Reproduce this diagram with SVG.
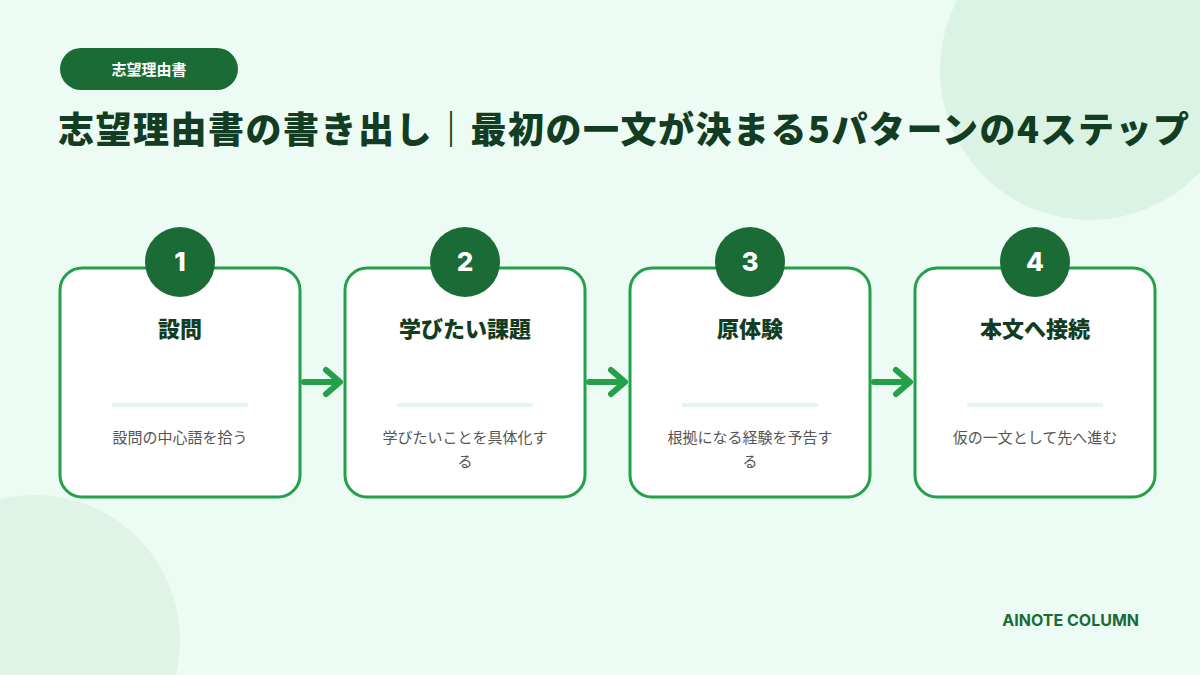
<svg xmlns="http://www.w3.org/2000/svg" width="1200" height="675" viewBox="0 0 1200 675">
<defs>
<style>
.box{fill:#fff;stroke:#22a04a;stroke-width:3}
.num{fill:#1a6b36}
.nt{font-family:Inter,"Noto Sans CJK JP",sans-serif;font-weight:800;font-size:26px;fill:#fff;text-anchor:middle}
.tt{font-family:"Noto Sans CJK JP",sans-serif;font-weight:900;font-size:22px;fill:#123d22;text-anchor:middle}
.dv{stroke:#e3f7ec;stroke-width:4}
.ds{font-family:"Noto Sans CJK JP",sans-serif;font-size:15px;fill:#555;text-anchor:middle}
.ar{stroke:#22a04a;stroke-width:6;fill:none;stroke-linecap:round;stroke-linejoin:round}
</style>
</defs>
<rect width="1200" height="675" fill="#ecfbf3"/>
<circle cx="1090" cy="70" r="150" fill="#daf3e4"/>
<circle cx="35" cy="640" r="145" fill="#dff3e7"/>
<rect x="60" y="48" width="178" height="42" rx="21" fill="#1a6b36"/>
<text x="149" y="75" font-family="'Noto Sans CJK JP',sans-serif" font-weight="700" font-size="15" fill="#fff" text-anchor="middle">志望理由書</text>
<text x="58" y="143" font-family="'Noto Sans CJK JP',sans-serif" font-weight="900" font-size="36" letter-spacing="1.5" fill="#123d22">志望理由書の書き出し｜最初の一文が決まる5パターンの4ステップ</text>
<g id="connectors">
<path class="ar" d="M304 382H338M326 370L340 382L326 394"/>
<path class="ar" d="M589 382H623M611 370L625 382L611 394"/>
<path class="ar" d="M874 382H908M896 370L910 382L896 394"/>
</g>
<g id="step1"><rect class="box" x="60" y="268" width="240" height="229" rx="22"/><circle class="num" cx="180" cy="262" r="35"/><text class="nt" x="180" y="271">1</text><text class="tt" x="180" y="337">設問</text><line class="dv" x1="112" y1="405" x2="248" y2="405"/><text class="ds" x="180" y="443">設問の中心語を拾う</text></g>
<g id="step2"><rect class="box" x="345" y="268" width="240" height="229" rx="22"/><circle class="num" cx="465" cy="262" r="35"/><text class="nt" x="465" y="271">2</text><text class="tt" x="465" y="337">学びたい課題</text><line class="dv" x1="397" y1="405" x2="533" y2="405"/><text class="ds" x="465" y="443">学びたいことを具体化す</text><text class="ds" x="465" y="467">る</text></g>
<g id="step3"><rect class="box" x="630" y="268" width="240" height="229" rx="22"/><circle class="num" cx="750" cy="262" r="35"/><text class="nt" x="750" y="271">3</text><text class="tt" x="750" y="337">原体験</text><line class="dv" x1="682" y1="405" x2="818" y2="405"/><text class="ds" x="750" y="443">根拠になる経験を予告す</text><text class="ds" x="750" y="467">る</text></g>
<g id="step4"><rect class="box" x="915" y="268" width="240" height="229" rx="22"/><circle class="num" cx="1035" cy="262" r="35"/><text class="nt" x="1035" y="271">4</text><text class="tt" x="1035" y="337">本文へ接続</text><line class="dv" x1="967" y1="405" x2="1103" y2="405"/><text class="ds" x="1035" y="443">仮の一文として先へ進む</text></g>
<text x="1139" y="626" font-family="Inter,sans-serif" font-weight="700" font-size="16" fill="#1a6b36" text-anchor="end">AINOTE COLUMN</text>
</svg>
